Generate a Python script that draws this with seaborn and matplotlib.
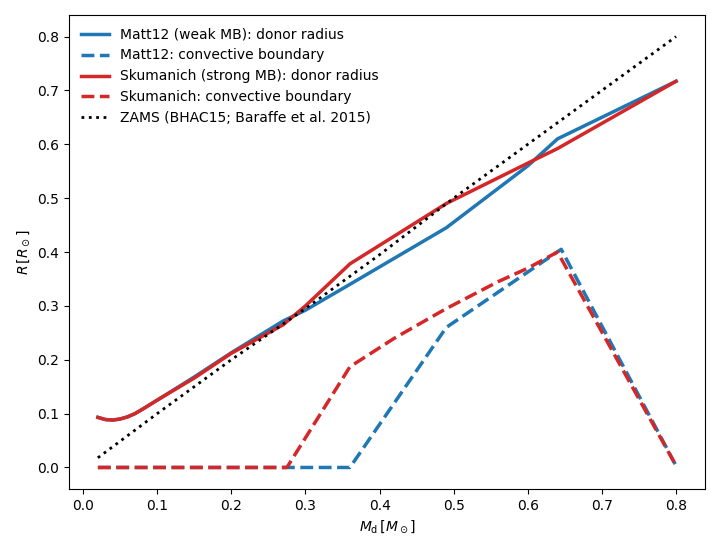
import numpy as np
import pandas as pd
import seaborn as sns
import matplotlib.pyplot as plt

# donor mass grid (M_sun)
m_lo = [0.02, 0.03, 0.04, 0.05, 0.06, 0.07, 0.08, 0.10, 0.15, 0.20, 0.27]

# Matt12 (weak MB)
matt_m = m_lo + [0.30, 0.36, 0.49, 0.60, 0.64, 0.80]
matt_r = [0.093, 0.089, 0.088, 0.090, 0.094, 0.100, 0.108, 0.125, 0.168, 0.213, 0.272,
          0.292, 0.340, 0.445, 0.560, 0.610, 0.717]
matt_cb_m = [0.02, 0.36, 0.49, 0.645, 0.80]
matt_cb = [0.0, 0.0, 0.26, 0.405, 0.003]

# Skumanich (strong MB)
sku_m = m_lo + [0.30, 0.36, 0.49, 0.60, 0.64, 0.80]
sku_r = [0.093, 0.089, 0.088, 0.090, 0.094, 0.100, 0.108, 0.125, 0.166, 0.212, 0.265,
         0.300, 0.378, 0.490, 0.565, 0.592, 0.717]
sku_cb_m = [0.02, 0.275, 0.36, 0.42, 0.49, 0.56, 0.60, 0.64, 0.80]
sku_cb = [0.0, 0.0, 0.187, 0.240, 0.295, 0.345, 0.370, 0.400, 0.003]

# ZAMS
zams_m = [0.02, 0.1, 0.2, 0.3, 0.4, 0.5, 0.6, 0.7, 0.8]
zams_r = [0.018, 0.100, 0.200, 0.295, 0.395, 0.500, 0.600, 0.700, 0.800]

blue = "#1f77b4"
red = "#d62728"

fig, ax = plt.subplots(figsize=(7.2, 5.5), dpi=100)
sns.lineplot(x=matt_m, y=matt_r, color=blue, lw=2.5, ls="-", sort=False, ax=ax,
             label="Matt12 (weak MB): donor radius")
sns.lineplot(x=matt_cb_m, y=matt_cb, color=blue, lw=2.5, ls="--", sort=False, ax=ax,
             label="Matt12: convective boundary")
sns.lineplot(x=sku_m, y=sku_r, color=red, lw=2.5, ls="-", sort=False, ax=ax,
             label="Skumanich (strong MB): donor radius")
sns.lineplot(x=sku_cb_m, y=sku_cb, color=red, lw=2.5, ls="--", sort=False, ax=ax,
             label="Skumanich: convective boundary")
sns.lineplot(x=zams_m, y=zams_r, color="black", lw=2, ls=":", sort=False, ax=ax,
             label="ZAMS (BHAC15; Baraffe et al. 2015)")

ax.set_xlabel(r"$M_{\rm d}\,[M_\odot]$")
ax.set_ylabel(r"$R\,[R_\odot]$")
ax.legend(frameon=False, loc="upper left")
plt.tight_layout()
plt.savefig("out.png", dpi=100)
